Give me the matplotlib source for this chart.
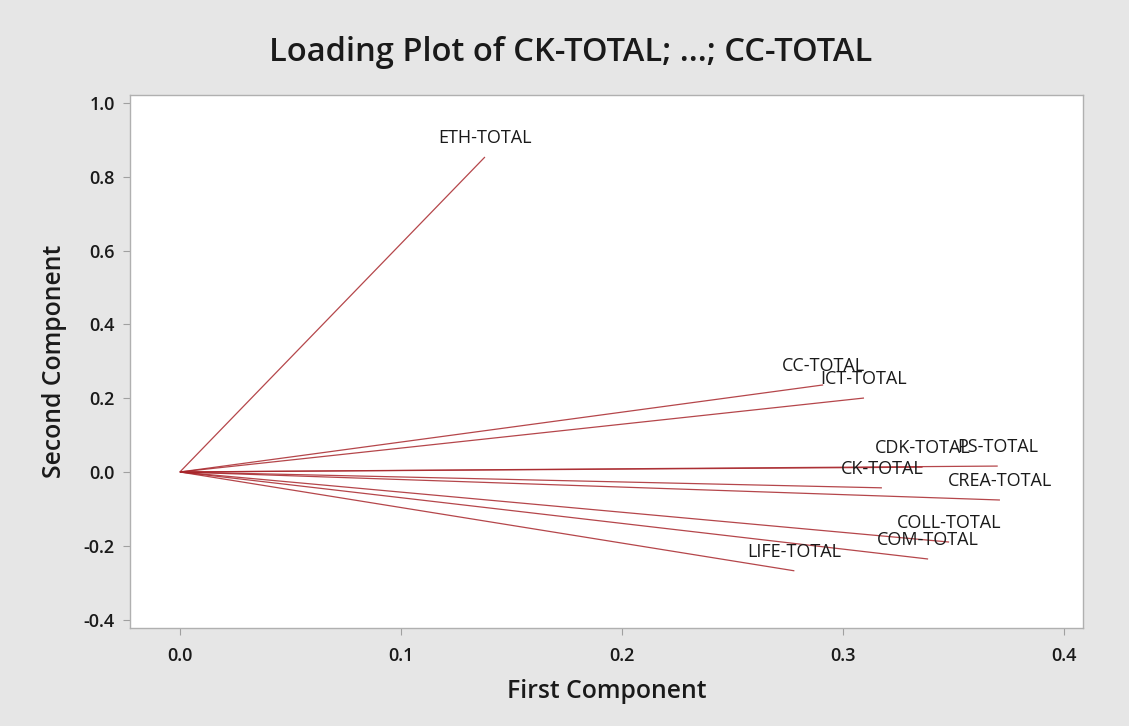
import matplotlib
matplotlib.use("Agg")
import matplotlib.pyplot as plt

variables = ["ETH-TOTAL", "CC-TOTAL", "ICT-TOTAL", "CDK-TOTAL", "PS-TOTAL",
             "CK-TOTAL", "CREA-TOTAL", "COLL-TOTAL", "COM-TOTAL", "LIFE-TOTAL"]
first_comp = [0.138, 0.291, 0.3095, 0.336, 0.370, 0.3176, 0.371, 0.348, 0.3385, 0.278]
second_comp = [0.854, 0.236, 0.2005, 0.013, 0.016, -0.043, -0.076, -0.190, -0.236, -0.268]
xticks = [0.0, 0.1, 0.2, 0.3, 0.4]
yticks = [-0.4, -0.2, 0.0, 0.2, 0.4, 0.6, 0.8, 1.0]

plt.rcParams['font.family'] = ['Open Sans', 'DejaVu Sans']

fig = plt.figure(figsize=(11.29, 7.26), dpi=100, facecolor='#e6e6e6')
ax = fig.add_axes([0.1151, 0.135, 0.9593 - 0.1151, 0.8691 - 0.135])
ax.set_facecolor('white')

line_color = '#a8262b'
for name, x, y in zip(variables, first_comp, second_comp):
    ax.plot([0, x], [0, y], color=line_color, lw=0.9, alpha=0.85, solid_capstyle='butt')
    ax.annotate(name, (x, y), xytext=(0, 10), textcoords='offset points',
                ha='center', va='baseline', fontsize=13, color='#1a1a1a')

ax.set_xlim(-0.0226, 0.4086)
ax.set_ylim(-0.423, 1.022)
ax.set_xticks(xticks)
ax.set_xticklabels([f"{v:.1f}" for v in xticks])
ax.set_yticks(yticks)
ax.set_yticklabels([f"{v:.1f}" for v in yticks])

for s in ax.spines.values():
    s.set_color('#b0b0b0')
    s.set_linewidth(1.0)
ax.tick_params(axis='both', direction='out', length=5, width=0.8, color='#a0a0a0',
               labelsize=13, labelcolor='#1a1a1a', pad=6)
for lab in ax.get_xticklabels() + ax.get_yticklabels():
    lab.set_fontweight('semibold')
ax.tick_params(axis='x', pad=9)

ax.set_xlabel("First Component", fontsize=17.8, fontweight='semibold', labelpad=10, color='#1a1a1a')
ax.set_ylabel("Second Component", fontsize=17.8, fontweight='semibold', labelpad=12, color='#1a1a1a')
fig.text(0.505, 0.928, "Loading Plot of CK-TOTAL; ...; CC-TOTAL", ha='center', va='center',
         fontsize=23.5, fontweight='semibold', color='#1a1a1a')

fig.savefig("out.png", dpi=100, facecolor=fig.get_facecolor())
